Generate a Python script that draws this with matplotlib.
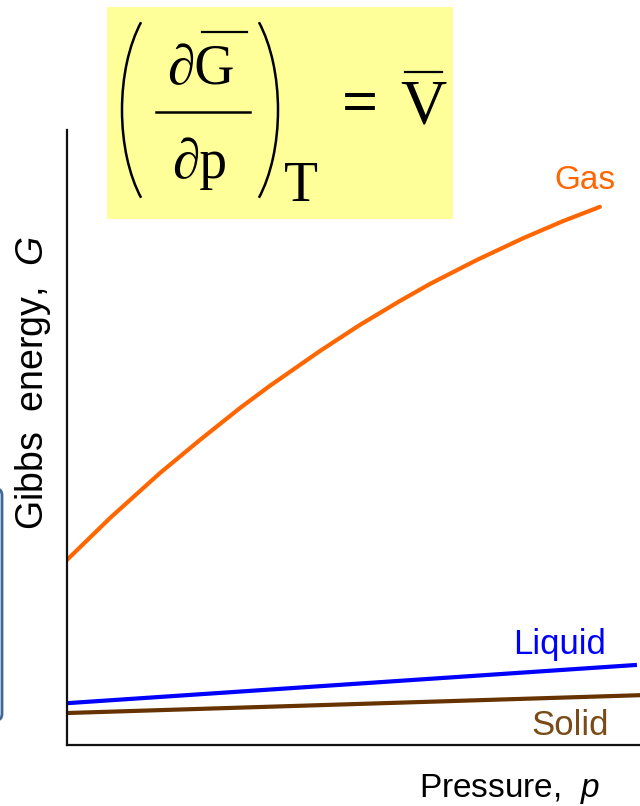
import numpy as np
import matplotlib.pyplot as plt
from matplotlib.patches import Rectangle, FancyBboxPatch, Arc
from matplotlib.lines import Line2D

plt.rcParams['font.family'] = ['Liberation Sans', 'DejaVu Sans']
plt.rcParams['mathtext.fontset'] = 'custom'
plt.rcParams['mathtext.it'] = 'Liberation Sans:italic'
plt.rcParams['mathtext.rm'] = 'Liberation Sans'

# Gibbs energy of each phase against pressure (arbitrary units)
gasP = [0.00, 0.75, 1.62, 2.32, 3.02, 3.54, 4.42, 5.11, 5.81, 6.34, 7.16, 7.96, 8.66, 9.30]
gasG = [3.01, 3.69, 4.42, 4.96, 5.48, 5.84, 6.41, 6.83, 7.22, 7.50, 7.89, 8.24, 8.52, 8.75]
liquidP = [0.0, 9.91]
liquidG = [0.68, 1.30]
solidP = [0.0, 10.0]
solidG = [0.52, 0.81]

W, H = 640, 806
fig = plt.figure(figsize=(W / 100, H / 100), dpi=100)

def fx(x):
    return x / W

def fy(y):
    return 1 - y / H

ax = fig.add_axes([fx(67), fy(745), (640 - 67) / W, (745 - 130) / H])
ax.plot(gasP, gasG, color='#ff6600', lw=3.0, solid_capstyle='round',
        solid_joinstyle='round')
ax.plot(liquidP, liquidG, color='#0000ff', lw=3.0)
ax.plot(solidP, solidG, color='#663300', lw=3.0)
ax.set_xlim(0, 10)
ax.set_ylim(0, 10)
ax.set_xticks([])
ax.set_yticks([])
for side in ['top', 'right']:
    ax.spines[side].set_visible(False)
for side in ['left', 'bottom']:
    ax.spines[side].set_linewidth(1.6)
    ax.spines[side].set_color('#111111')

# phase labels
ax.text(9.04, 9.04, 'Gas', color='#ff6600', fontsize=24, ha='center', va='baseline')
ax.text(8.6, 1.48, 'Liquid', color='#0000ff', fontsize=25, ha='center', va='baseline')
ax.text(8.78, 0.16, 'Solid', color='#7a4b16', fontsize=25, ha='center', va='baseline')

fig.text(fx(509), fy(797), r'Pressure,  $\it{p}$', fontsize=24, ha='center', va='baseline')
fig.text(fx(43), fy(383), r'Gibbs  energy,  $\it{G}$', fontsize=27, rotation=90,
         ha='center', va='baseline', rotation_mode='anchor')

# yellow box holding the relation dG/dp = V
fig.add_artist(Rectangle((fx(107), fy(219)), (453 - 107) / W, (219 - 7) / H,
                         transform=fig.transFigure, facecolor='#ffff99',
                         edgecolor='none', zorder=3))
serif = 'Liberation Serif'
fig.text(fx(201), fy(84), '\u2202G', family=serif, fontsize=40, ha='center',
         va='baseline', zorder=4)
fig.text(fx(200), fy(178), '\u2202p', family=serif, fontsize=40, ha='center',
         va='baseline', zorder=4)
fig.text(fx(301), fy(201), 'T', family=serif, fontsize=40, ha='center',
         va='baseline', zorder=4)
fig.text(fx(360), fy(123), '=', family=serif, fontsize=46, weight='bold',
         ha='center', va='baseline', zorder=4)
fig.text(fx(423), fy(123), 'V', family=serif, fontsize=46, ha='center',
         va='baseline', zorder=4)
for x0, x1, y, lw in [(156, 250, 112, 1.8), (202, 247, 32, 1.6), (405, 442, 72, 1.6)]:
    fig.add_artist(Line2D([fx(x0), fx(x1)], [fy(y), fy(y)], transform=fig.transFigure,
                          color='black', lw=lw, zorder=4))

# tall brackets around the derivative (sizes in inches, 100 px each)
fig.add_artist(Arc((182 / 100, (H - 110) / 100), 120 / 100, 240 / 100,
                   theta1=115, theta2=245, transform=fig.dpi_scale_trans,
                   color='black', lw=1.8, zorder=4))
fig.add_artist(Arc((218 / 100, (H - 110) / 100), 120 / 100, 240 / 100,
                   theta1=-65, theta2=65, transform=fig.dpi_scale_trans,
                   color='black', lw=1.8, zorder=4))

# edge of a neighbouring panel
fig.add_artist(FancyBboxPatch((fx(-40), fy(720)), 42 / W, (720 - 489) / H,
                              boxstyle='round,pad=0,rounding_size=0.008',
                              transform=fig.transFigure, facecolor='none',
                              edgecolor='#3f6699', lw=2.0, zorder=4))

fig.savefig('out.png', dpi=100)
